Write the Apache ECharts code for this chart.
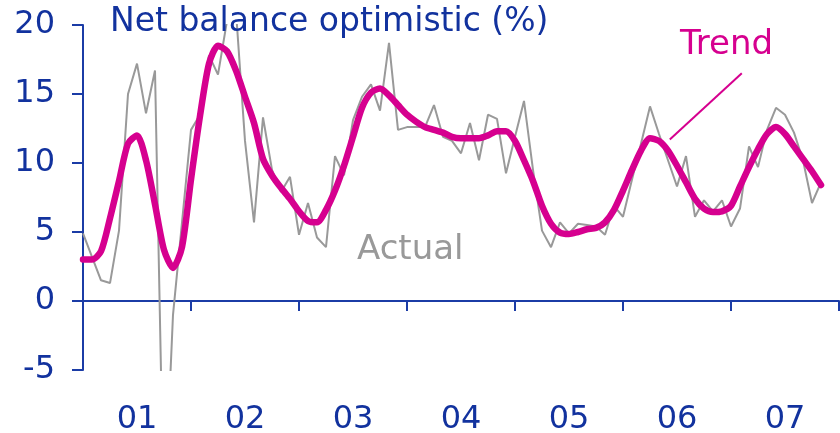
<!DOCTYPE html>
<html>
<head>
<meta charset="utf-8">
<script src="https://cdn.jsdelivr.net/npm/echarts@6/dist/echarts.min.js"></script>
<style>
  html, body { margin: 0; padding: 0; background: #ffffff; }
  #chart { width: 840px; height: 433px; }
</style>
</head>
<body>
<div id="chart"></div>
<script>
// Year labels shown under the axis (2001 .. 2007)
const yearLabels = ['01', '02', '03', '04', '05', '06', '07'];

// Monthly survey readings, Jan 2001 onwards (net balance, %)
const actual = [
  4.9, 3.2, 1.5, 1.3, 5.1, 15.0, 17.2, 13.6, 16.7, -16.0, -1.0, 5.7,
  12.4, 13.5, 17.8, 16.4, 20.3, 21.0, 11.6, 5.7, 13.3, 9.5, 7.9, 9.0,
  4.8, 7.1, 4.6, 3.9, 10.5, 9.1, 13.1, 14.8, 15.7, 13.8, 18.7, 12.4,
  12.6, 12.6, 12.6, 14.2, 11.9, 11.6, 10.7, 12.9, 10.2, 13.5, 13.2, 9.25,
  11.9, 14.5, 9.5, 5.1, 3.9, 5.7, 4.9, 5.6, 5.5, 5.4, 4.8, 6.9,
  6.1, 8.8, 11.4, 14.1, 12.1, 10.2, 8.3, 10.5, 6.1, 7.3, 6.5, 7.3,
  5.4, 6.7, 11.2, 9.7, 12.4, 14.0, 13.5, 12.2, 10.2, 7.1, 8.6
];

// Smoothed trend of the same series
const trend = [
  3.0, 3.0, 3.6, 6.0, 8.7, 11.4, 12.0, 10.2, 7.0, 3.7, 2.4, 3.9,
  8.8, 13.4, 17.2, 18.5, 18.1, 16.7, 14.8, 12.9, 10.3, 9.1, 8.2, 7.4,
  6.5, 5.8, 5.7, 6.6, 8.0, 9.8, 11.9, 14.0, 15.1, 15.4, 14.9, 14.2,
  13.5, 13.0, 12.6, 12.4, 12.2, 11.9, 11.8, 11.8, 11.8, 12.0, 12.3, 12.3,
  11.6, 10.2, 8.7, 6.9, 5.6, 4.95, 4.85, 5.0, 5.2, 5.3, 5.7, 6.6,
  8.0, 9.5, 10.9, 11.8, 11.6, 10.9, 9.8, 8.6, 7.4, 6.7, 6.45, 6.5,
  6.9, 8.3, 9.7, 11.0, 12.1, 12.6, 12.1, 11.2, 10.3, 9.4, 8.4
];

// Pointer from the "Trend" caption down to the curve: [month index, value]
const trendPointer = [[73.2, 16.5], [65.2, 11.7]];

// Month categories from Jan 2001 through Jan 2008 (the last one closes the axis)
const months = [];
for (let y = 2001; y <= 2008; y++) {
  for (let m = 1; m <= 12; m++) {
    months.push(y + '-' + String(m).padStart(2, '0'));
    if (y === 2008) break;
  }
}

const BLUE = '#12329e';
const AXIS = '#1b3ca6';
const MAGENTA = '#d6008f';
const GREY = '#999999';
const FONT = 'DejaVu Sans';

const chart = echarts.init(document.getElementById('chart'), null, { renderer: 'canvas' });

chart.setOption({
  animation: false,
  backgroundColor: '#ffffff',
  grid: {
    left: 83, right: 1, top: 25, bottom: 63,
    containLabel: false,
    outerBoundsMode: 'none'
  },
  xAxis: [
    {
      type: 'value',
      min: 0, max: months.length - 1, interval: 12,
      axisLine: { onZero: true, lineStyle: { color: AXIS, width: 2 } },
      axisTick: {
        show: true, inside: false, length: 10,
        lineStyle: { color: AXIS, width: 2 }
      },
      axisLabel: { show: false },
      splitLine: { show: false }
    },
    {
      type: 'category',
      data: yearLabels,
      position: 'bottom',
      boundaryGap: true,
      axisLine: { show: false, onZero: false },
      axisTick: { show: false },
      axisLabel: { color: BLUE, fontFamily: FONT, fontSize: 32, margin: 34 },
      splitLine: { show: false }
    }
  ],
  yAxis: {
    type: 'value',
    min: -5, max: 20, interval: 5,
    axisLine: { show: true, lineStyle: { color: AXIS, width: 2 } },
    axisTick: { show: true, inside: false, length: 11, lineStyle: { color: AXIS, width: 2 } },
    axisLabel: { color: BLUE, fontFamily: FONT, fontSize: 32, margin: 28 },
    splitLine: { show: false }
  },
  series: [
    {
      name: 'Actual',
      type: 'line',
      data: actual.map((v, i) => [i, v]),
      xAxisIndex: 0,
      symbol: 'none',
      clip: true,
      lineStyle: { color: GREY, width: 2 },
      z: 2
    },
    {
      name: 'Trend',
      type: 'line',
      data: trend.map((v, i) => [i, v]),
      xAxisIndex: 0,
      symbol: 'none',
      clip: true,
      smooth: 0.25,
      lineStyle: { color: MAGENTA, width: 6.5, cap: 'round', join: 'round' },
      z: 3,
      markLine: {
        silent: true,
        symbol: 'none',
        label: { show: false },
        lineStyle: { color: MAGENTA, width: 2, type: 'solid' },
        data: [[
          { coord: trendPointer[0] },
          { coord: trendPointer[1] }
        ]]
      }
    }
  ],
  graphic: [
    {
      type: 'text', left: 110, top: 6, z: 10,
      style: { text: 'Net balance optimistic (%)', fill: BLUE, font: '33px "' + FONT + '"' }
    },
    {
      type: 'text', left: 680, top: 28, z: 10,
      style: { text: 'Trend', fill: MAGENTA, font: '34px "' + FONT + '"' }
    },
    {
      type: 'text', left: 357, top: 233, z: 10,
      style: { text: 'Actual', fill: GREY, font: '34px "' + FONT + '"' }
    }
  ]
});
</script>
</body>
</html>
